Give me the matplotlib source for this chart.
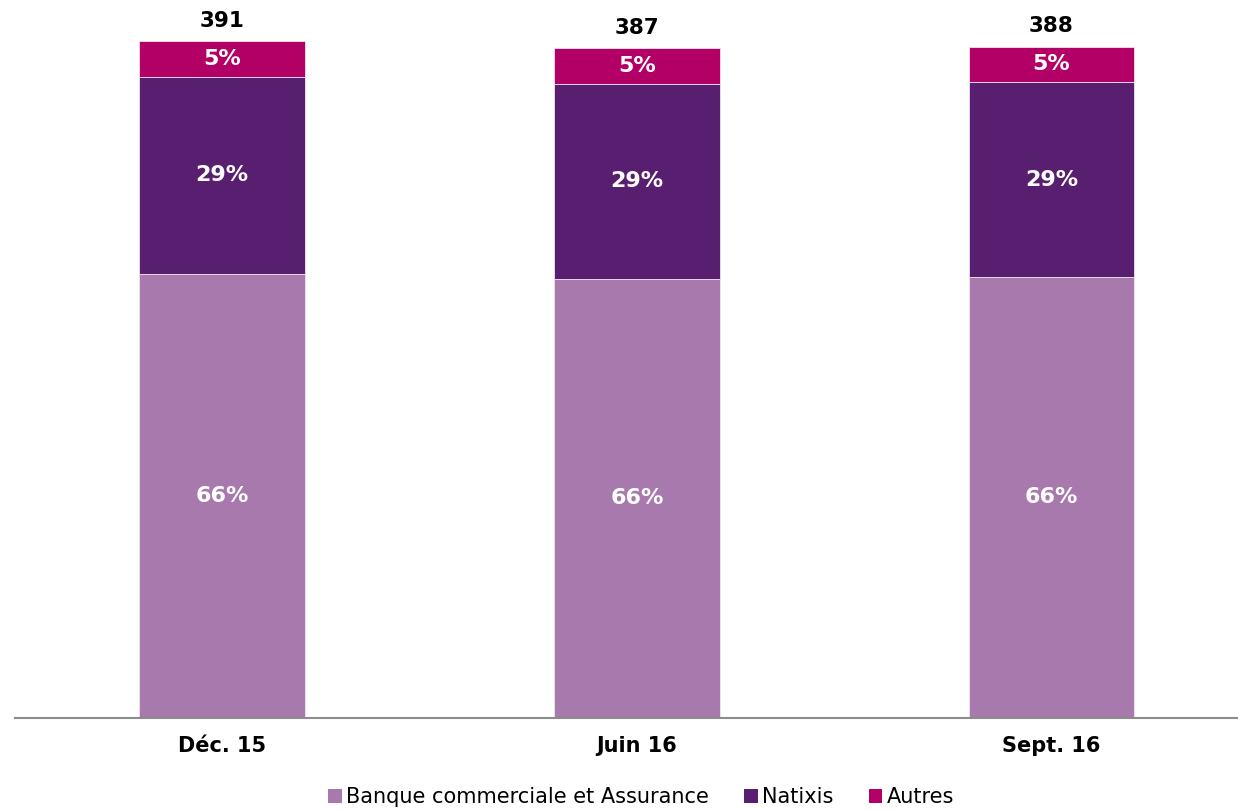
import matplotlib
matplotlib.use('Agg')
import matplotlib.pyplot as plt
import numpy as np

periods = ['Déc. 15', 'Juin 16', 'Sept. 16']
totals = [391, 387, 388]
series = ['Banque commerciale et Assurance', 'Natixis', 'Autres']
share_bca = [0.656, 0.656, 0.656]
share_natixis = [0.292, 0.291, 0.291]
share_autres = [0.052, 0.053, 0.053]
colors = ['#A779AD', '#581E70', '#B20066']

plt.rcParams['font.family'] = ['DejaVu Sans']

fig = plt.figure(figsize=(12.38, 8.10), dpi=100)
ax = fig.add_axes([15 / 1238, 1 - 717.5 / 810, 1 - 15 / 1238, 717.5 / 810])

x = np.arange(len(periods))
tot = np.array(totals, dtype=float)
shares = [np.array(share_bca), np.array(share_natixis), np.array(share_autres)]

bottom = np.zeros(len(periods))
for name, sh, col in zip(series, shares, colors):
    vals = tot * sh
    ax.bar(x, vals, 0.4, bottom=bottom, color=col, label=name,
           edgecolor='#f0e4f2', linewidth=0.6, zorder=2)
    for xi, b, v, s in zip(x, bottom, vals, sh):
        ax.text(xi, b + v / 2, f'{s * 100:.0f}%', ha='center', va='center',
                color='white', fontsize=16, fontweight='bold', zorder=3)
    bottom += vals

# totals above each stack
for xi, t in zip(x, totals):
    ax.text(xi, t + 6, f'{t}', ha='center', va='bottom', color='black',
            fontsize=15.5, fontweight='bold')

ax.set_xlim(-0.5, 2.45)
ax.set_ylim(0, 415)
ax.set_xticks(x)
ax.set_xticklabels(periods, fontsize=15, fontweight='bold')
ax.tick_params(axis='x', length=0, pad=13)
ax.set_yticks([])
for side in ['top', 'right', 'left']:
    ax.spines[side].set_visible(False)
ax.spines['bottom'].set_color('#8c8c8c')
ax.spines['bottom'].set_linewidth(1.5)
ax.patch.set_alpha(0)

leg = fig.legend(loc='center', bbox_to_anchor=(641 / 1238, 1 - 797 / 810), ncol=3,
                 frameon=False, fontsize=15, handlelength=0.65, handleheight=0.65,
                 handletextpad=0.2, columnspacing=1.7)
for h in leg.legend_handles:
    h.set_edgecolor('none')

fig.savefig('out.png', dpi=100)
